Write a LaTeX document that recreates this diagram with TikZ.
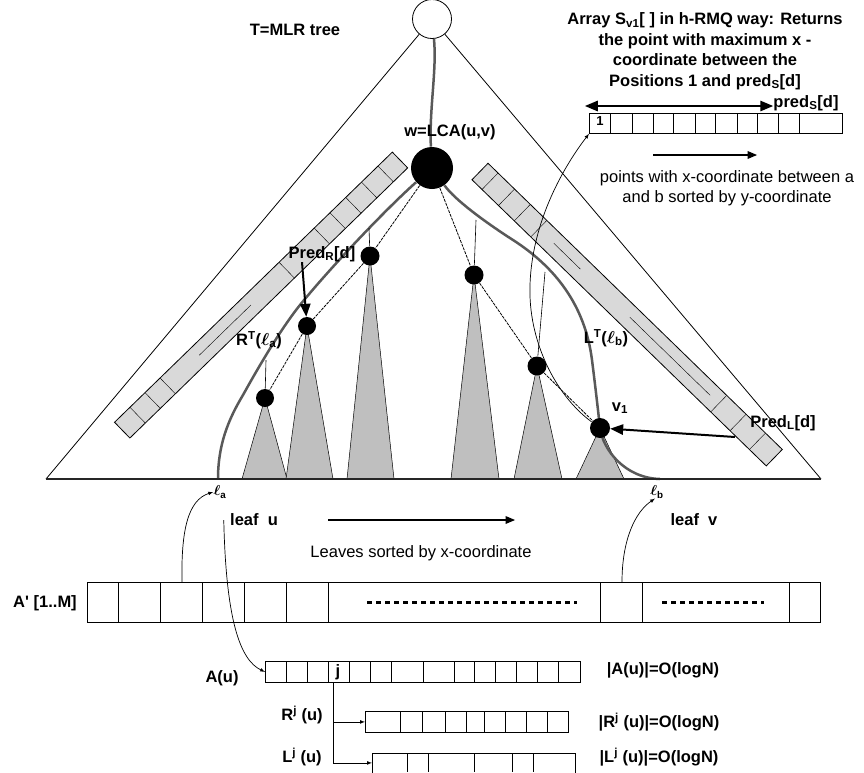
\documentclass[tikz,border=0pt]{standalone}
\usepackage{fontspec}
\setmainfont{Liberation Sans}
\usepackage{tikz}
\usetikzlibrary{arrows, calc, backgrounds}

\tikzset{
  lbl/.style={font=\fontsize{16.5}{20.5}\selectfont\bfseries, inner sep=0pt},
  txt/.style={font=\fontsize{16.5}{20.5}\selectfont, inner sep=0pt},
  blk/.style={circle, fill=black, inner sep=0pt, minimum size=#1},
  blk/.default=19pt,
  subtree/.style={fill=black!25, draw=black, line width=0.5pt},
  gpath/.style={draw=black!65, line width=2.5pt},
  bar/.style={fill=black!15, draw=black, line width=0.8pt},
  chain/.style={dash pattern=on 3pt off 1pt, line width=0.8pt},
  bigarrow/.style={-triangle 45, line width=2pt},
  dblarrow/.style={triangle 45-triangle 45, line width=2pt},
  medarrow/.style={-triangle 45, line width=1.2pt},
  thinarrow/.style={-latex, line width=0.7pt},
  arraybox/.style={draw, line width=0.8pt, inner sep=0pt, anchor=north west},
  dotrow/.style={line width=3pt, dash pattern=on 5pt off 4pt},
}
\newcommand{\ellb}{{\boldmath$\ell$}}

\begin{document}
\begin{tikzpicture}[x=1pt, y=-1pt, line width=0.8pt]
\useasboundingbox (0,0) rectangle (864,772);

\node[circle, draw, fill=white, minimum size=39pt, inner sep=0pt] (root) at (432,19) {};
\coordinate (tl) at (46,479);
\coordinate (tr) at (821,479);
\draw (root) -- (tl);
\draw (root) -- (tr);
\draw[line width=1.5pt, black!85] (tl) -- (tr);

\node[blk=42pt] (lca) at (432,168) {};
\node[blk] (n1) at (370,256) {};
\node[blk=18pt] (n2) at (307,326) {};
\node[blk=18pt] (n3) at (265,398) {};
\node[blk] (n4) at (474,275) {};
\node[blk] (n5) at (537,366) {};
\node[blk=20pt] (v1) at (600,428) {};

\coordinate (lap) at (218,479);
\coordinate (lbp) at (660,479);

\begin{scope}[on background layer]
  \begin{scope}[shift={(400,160)}, rotate=224.2]
    \draw[bar] (0,-11) rectangle (387.5,11);
    \foreach \d in {20,43,65,87,109,158,324,345,366}
      \draw (\d,-11) -- (\d,11);
    \draw (208,0) -- (280,0);
  \end{scope}
  \begin{scope}[shift={(480,171.5)}, rotate=-44.2]
    \draw[bar] (0,-11.5) rectangle (410.5,11.5);
    \foreach \d in {14,37,59,82,333,360,387}
      \draw (\d,-11.5) -- (\d,11.5);
    \draw (103,0) -- (140,0);
    \draw (209,0) -- (321,0);
  \end{scope}
  \foreach \x/\y/\l/\r in {265/398/242/287, 307/326/286/333, 370/256/347/394,
                           474/275/451/499, 537/366/514/562, 600/428/576/624}
    \draw[subtree] (\x,\y) -- (\l,479) -- (\r,479) -- cycle;
  \draw[gpath] (root) .. controls (437,70) and (429,110) .. (lca);
  \draw[gpath] (lca) .. controls (385,210) and (330,268) .. (300,305)
    .. controls (280,330) and (258,368) .. (243,395)
    .. controls (228,420) and (218,445) .. (lap);
  \draw[gpath] (lca) .. controls (455,200) and (485,222) .. (513,240)
    .. controls (555,267) and (585,305) .. (592,360)
    .. controls (596,392) and (598,410) .. (v1.center)
    .. controls (603,450) and (625,478) .. (lbp);
\end{scope}

\draw[chain] (lca) -- (n1) -- (n2) -- (n3);
\draw[chain] (lca) -- (n4) -- (n5) -- (v1);
\coordinate (s1) at (369,228);
\coordinate (s3) at (266,360);
\coordinate (s4) at (476,220);
\coordinate (s5) at (545,272);
\draw[line width=0.6pt] (s1) -- (n1);
\draw[line width=0.6pt] (s3) -- (n3);
\draw[line width=0.6pt] (s4) -- (n4);
\draw[line width=0.6pt] (s5) -- (n5);

\node[lbl] (title) at (295,30) {T=MLR tree};
\node[lbl] (lcalbl) at (450,132) {w=LCA(u,v)};
\node[lbl] (predr) at (322,254) {Pred\textsubscript{R}[d]};
\node[lbl] (rtla) at (259,340) {R\textsuperscript{T}(\ellb\textsubscript{a})};
\node[lbl] (ltlb) at (606,338) {L\textsuperscript{T}(\ellb\textsubscript{b})};
\node[lbl] (v1lbl) at (620,408) {v\textsubscript{1}};
\node[lbl] (predl) at (783,423) {Pred\textsubscript{L}[d]};
\draw[bigarrow] ([xshift=-20pt]predr.south) -- (n2);
\coordinate (pl) at (735,437);
\draw[bigarrow] (pl) -- (v1);

\node[lbl, align=center] (sdesc) at (705,51) {Array S\textsubscript{v1}[ ] in h-RMQ way: Returns\\the point with maximum x -\\coordinate between the\\Positions 1 and pred\textsubscript{S}[d]};
\node[lbl] (preds) at (806,103) {pred\textsubscript{S}[d]};
\node[arraybox, minimum width=253pt, minimum height=20pt] (sarr) at (589,113) {};
\foreach \x in {610,632,653,673,695,715,737,757,778,799}
  \draw (\x,113) -- (\x,133);
\node[lbl, font=\fontsize{13}{15}\selectfont\bfseries] (one) at (600,121) {1};
\coordinate (dl) at (585,106);
\draw[dblarrow] (dl) -- (dl -| preds.west);
\coordinate (pa) at (653,155);
\coordinate (pb) at (757,155);
\draw[medarrow] (pa) -- (pb);
\node[txt, align=center] (pdesc) at (727,188) {points with x-coordinate between a\\and b sorted by y-coordinate};
\draw[thinarrow] (v1) .. controls (555,395) and (528,340) .. (530,285)
  .. controls (532,220) and (565,165) .. (sarr.south west);

\node[lbl, font=\fontsize{14}{16}\selectfont\bfseries] (la) at (220,492) {\ellb\textsubscript{a}};
\node[lbl, font=\fontsize{14}{16}\selectfont\bfseries] (lb) at (657,492) {\ellb\textsubscript{b}};
\node[lbl] (leafu) at (254,520) {leaf\ \ u};
\node[lbl] (leafv) at (694,520) {leaf\ \ v};
\coordinate (sa) at (328,520);
\coordinate (sb) at (515,520);
\draw[medarrow] (sa) -- (sb);
\node[txt] (leaves) at (421,553) {Leaves sorted by x-coordinate};

\node[arraybox, minimum width=733pt, minimum height=40pt] (apr) at (87,582) {};
\foreach \x in {118,160,202,244,286,328,600,642,789}
  \draw (\x,582) -- (\x,622);
\draw[dotrow] (367,602) -- (577,602);
\draw[dotrow] (662,602) -- (764,602);
\node[lbl] (aprl) at (45,603) {A\textquotesingle{} [1..M]};
\coordinate (ap1) at (182,582);
\coordinate (ap2) at (622,582);
\draw[thinarrow] (ap1) .. controls (181,530) and (188,500) .. (la.west);
\draw[thinarrow] (ap2) .. controls (622,540) and (635,512) .. ([xshift=-2pt]lb.south);

\node[arraybox, minimum width=315pt, minimum height=21pt] (au) at (265,661) {};
\foreach \x in {286,307,328,349,370,391,423,454,474,495,516,537,558}
  \draw (\x,661) -- (\x,682);
\node[lbl] (j) at (338,672) {j};
\node[lbl] (aul) at (222,678) {A(u)};
\node[lbl] (ausz) at (663,670) {|A(u)|=O(logN)};
\draw[thinarrow] ([xshift=-6pt]leafu.west) .. controls (226,620) and (240,660) .. (au.west);

\node[arraybox, minimum width=203pt, minimum height=21pt] (rj) at (365,711) {};
\foreach \x in {400,422,445,466,484,505,526,547}
  \draw (\x,711) -- (\x,732);
\node[inner sep=0pt, minimum width=203pt, minimum height=19pt, anchor=north west] (lj) at (372,753) {};
\draw (lj.south west) -- (lj.north west) -- (lj.north east) -- (lj.south east);
\foreach \x in {407,428,474,512,533}
  \draw (\x,753) -- (\x,772);
\coordinate (jb) at (333,682);
\draw[thinarrow] (jb) |- (rj.west);
\draw[thinarrow] (jb) |- (lj.west);
\node[lbl] (rjl) at (302,715) {R\textsuperscript{j} (u)};
\node[lbl] (ljl) at (302,757) {L\textsuperscript{j} (u)};
\node[lbl] (rjsz) at (659,722) {|R\textsuperscript{j} (u)|=O(logN)};
\node[lbl] (ljsz) at (659,757) {|L\textsuperscript{j} (u)|=O(logN)};
\end{tikzpicture}
\end{document}
